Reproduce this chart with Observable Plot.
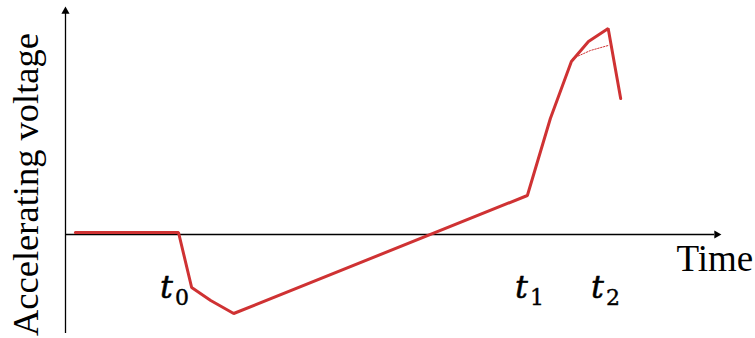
<!DOCTYPE html>
<html>
<head>
<meta charset="utf-8">
<script src="https://cdn.jsdelivr.net/npm/d3@7"></script>
<script src="https://cdn.jsdelivr.net/npm/@observablehq/plot@0.6"></script>
<style>
  html, body { margin: 0; padding: 0; background: #fff; }
  #chart { width: 755px; height: 338px; }
</style>
</head>
<body>
<div id="chart"></div>
<script>
// Voltage waveform (arbitrary units)
const times    = [1.5, 17.2, 19.2, 22.1, 25.6, 70.3, 73.8, 77.0, 79.6, 82.6, 84.5];
const voltages = [0.02, 0.02, -0.53, -0.66, -0.79, 0.39, 1.16, 1.73, 1.93, 2.06, 1.36];
// Dotted alternative near the peak
const altTimes    = [77.2, 79.9, 82.6];
const altVoltages = [1.76, 1.84, 1.89];
// Time markers
const markerNames = ["0", "1", "2"];
const markerTimes = [14.4, 68.4, 80.0];
const markerLevel = -0.53;
// Axis extents
const xDomain = [0, 100];
const yDomain = [-0.99, 2.29];
const xTitle = "Time";
const yTitle = "Accelerating voltage";

const wave = times.map((t, i) => ({t, v: voltages[i]}));
const alt = altTimes.map((t, i) => ({t, v: altVoltages[i]}));
const markers = markerNames.map((n, i) => ({n, t: markerTimes[i], v: markerLevel}));

const red = "#cf3233";
const chart = Plot.plot({
  width: 755,
  height: 338,
  marginLeft: 65,
  marginRight: 33,
  marginTop: 5,
  marginBottom: 5,
  x: {domain: xDomain, axis: null},
  y: {domain: yDomain, axis: null},
  style: {background: "#fff", overflow: "visible"},
  marks: [
    Plot.ruleX([0], {y1: yDomain[0], y2: yDomain[1] - 0.06, stroke: "#000", strokeWidth: 1.3}),
    Plot.ruleY([0], {x1: 0, x2: xDomain[1] - 1.2, stroke: "#000", strokeWidth: 1.3}),
    Plot.dot([{t: 0, v: yDomain[1]}], {x: "t", y: "v", symbol: "triangle2", r: 3.9, fill: "#000", stroke: null, dy: 5.8}),
    Plot.dot([{t: xDomain[1], v: 0}], {x: "t", y: "v", symbol: "triangle2", r: 3.9, fill: "#000", stroke: null, rotate: 90, dx: -5.8}),
    Plot.line(alt, {x: "t", y: "v", stroke: red, strokeWidth: 1, strokeDasharray: "1.5,1.5"}),
    Plot.line(wave, {x: "t", y: "v", stroke: red, strokeWidth: 3, strokeLinejoin: "miter"}),
    Plot.text(markers, {x: "t", y: "v", text: () => "t", textAnchor: "start", fontFamily: "DejaVu Serif", fontStyle: "italic", fontSize: 32, fill: "#000", stroke: "#000", strokeWidth: 0.5}),
    Plot.text(markers, {x: "t", y: "v", text: "n", textAnchor: "start", dx: 15, dy: 10, fontFamily: "DejaVu Serif", fontSize: 22, fill: "#000", stroke: "#000", strokeWidth: 0.4}),
    Plot.text([{t: 93.0, v: -0.25}], {x: "t", y: "v", text: () => xTitle, textAnchor: "start", fontFamily: "Liberation Serif", fontSize: 37, fill: "#000"}),
    Plot.text([{t: -6.0, v: 0.50}], {x: "t", y: "v", text: () => yTitle, rotate: -90, textAnchor: "middle", fontFamily: "Liberation Serif", fontSize: 36.5, fill: "#000"})
  ]
});
document.getElementById("chart").appendChild(chart);
</script>
</body>
</html>
